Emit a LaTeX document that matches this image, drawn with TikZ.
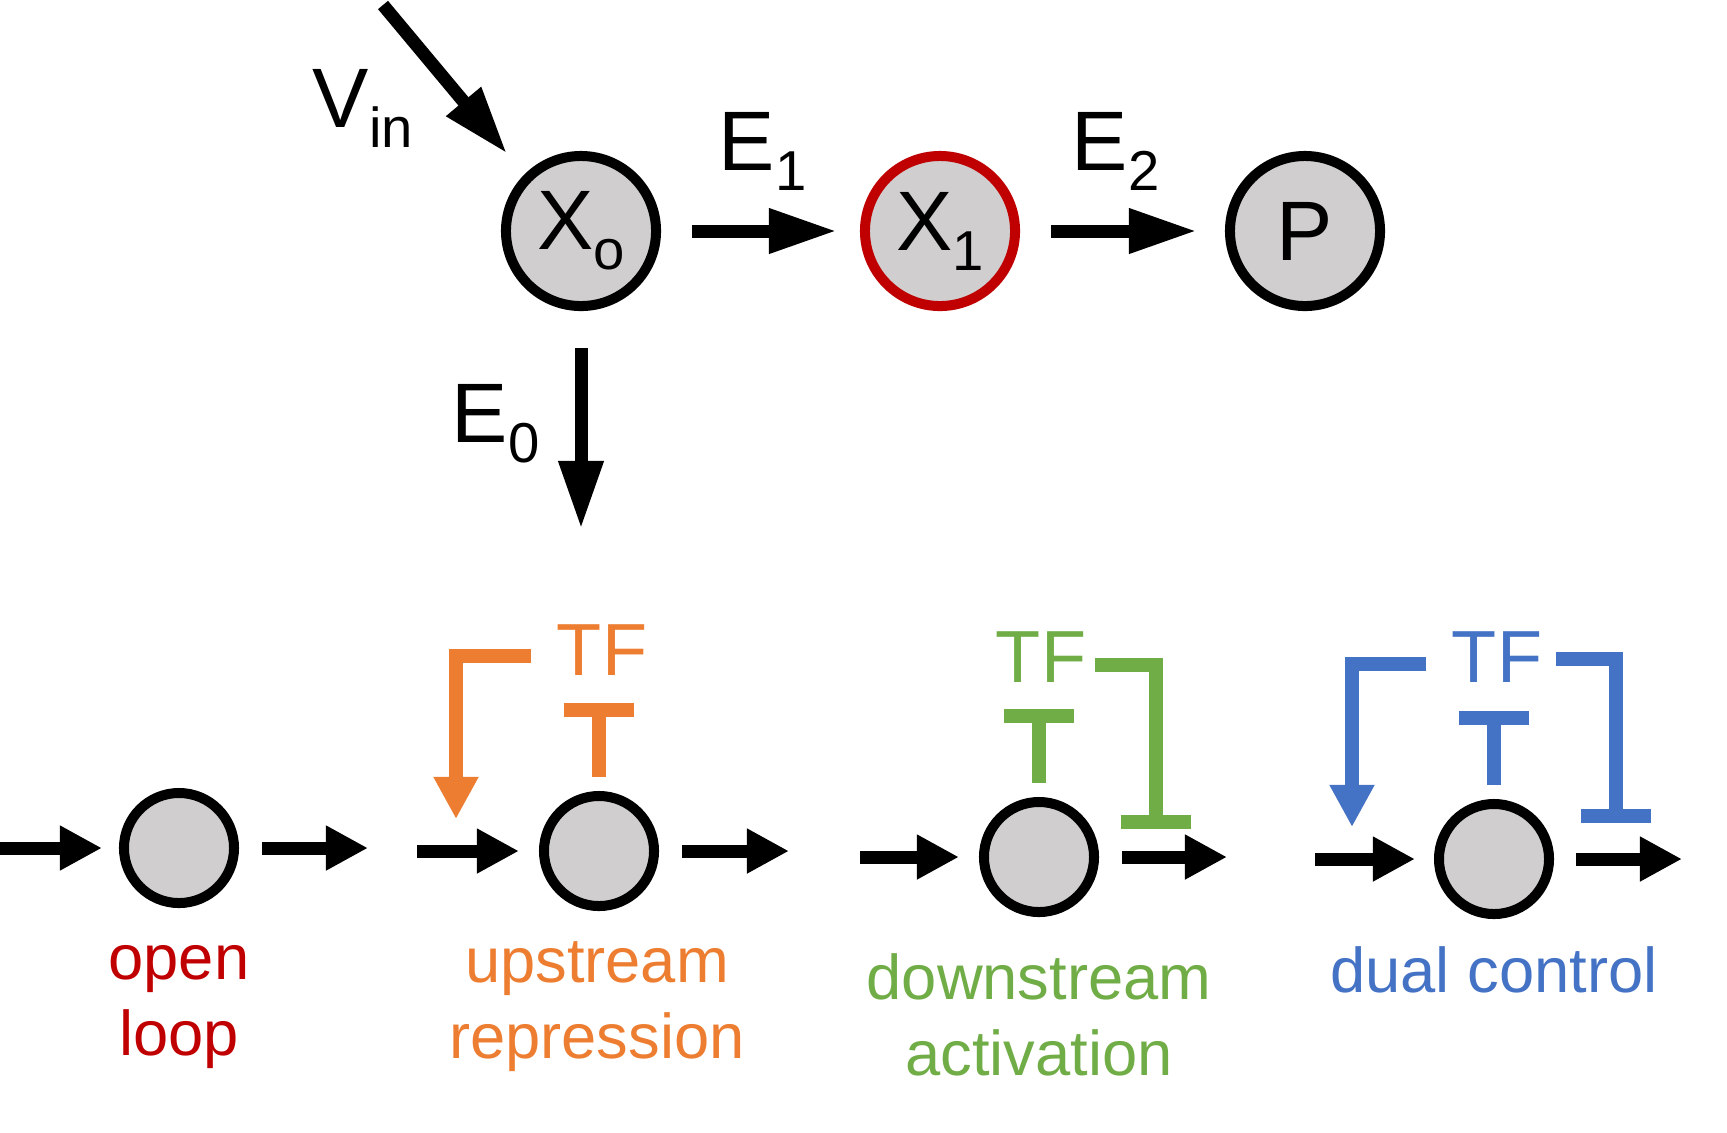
\documentclass[tikz,border=0pt]{standalone}
\usepackage{fontspec}
\setmainfont{Liberation Sans}
\usetikzlibrary{arrows.meta}

\definecolor{loopred}{HTML}{C00000}
\definecolor{uporange}{HTML}{ED7D31}
\definecolor{downgreen}{HTML}{70AD47}
\definecolor{dualblue}{HTML}{4472C4}
\definecolor{poolgray}{HTML}{D0CECE}

\newcommand{\lowidx}[1]{\raisebox{-0.2cm}{\fontsize{16}{16}\selectfont #1}}

\tikzset{
	pool/.style={circle,draw,fill=poolgray,line width=0.1cm,minimum size=1.5cm,inner sep=0pt,font=\fontsize{24}{28}\selectfont},
	smallpool/.style={pool,minimum size=1.1cm},
	bigflow/.style={line width=0.13cm,-{Triangle[length=0.68cm,width=0.42cm]}},
	flow/.style={line width=0.13cm,-{Triangle[length=0.42cm,width=0.42cm]}},
	activ/.style={line width=0.14cm,-{Triangle[length=0.42cm,width=0.42cm]}},
	repress/.style={line width=0.14cm,-{Bar[width=0.69cm]}},
	bigtext/.style={font=\fontsize{24}{28}\selectfont,inner sep=0pt,anchor=base west},
	tftext/.style={font=\fontsize{21}{25}\selectfont,inner sep=0pt,anchor=base},
	caption/.style={font=\fontsize{18}{21.6}\selectfont,inner sep=0pt,align=center,anchor=base},
}

\begin{document}
\begin{tikzpicture}[x=0.01cm,y=-0.01cm]
	\useasboundingbox (0,0) rectangle (1727,1132);

	% PATHWAY
	\node[pool] (X0) at (581,231) {X\lowidx{o}};
	\node[pool,draw=loopred] (X1) at (940,231) {X\lowidx{1}};
	\node[pool] (P) at (1305,231) {P};
	\coordinate (vinstart) at (383,5);
	\coordinate (e0end) at (581,529);
	\draw[bigflow,shorten >=0.27cm] (vinstart) -- (X0.135);
	\draw[bigflow,shorten <=0.31cm,shorten >=0.23cm] (X0) -- (X1);
	\draw[bigflow,shorten <=0.31cm,shorten >=0.28cm] (X1) -- (P);
	\draw[bigflow,shorten <=0.37cm] (X0) -- (e0end);
	\node[bigtext] (vin) at (312,127) {V\lowidx{in}};
	\node[bigtext] (e1) at (718,170) {E\lowidx{1}};
	\node[bigtext] (e2) at (1071,170) {E\lowidx{2}};
	\node[bigtext] (e0) at (451,442) {E\lowidx{0}};

	% OPEN LOOP
	\begin{scope}[shift={(179,848)}]
		\node[smallpool] (ol) at (0,0) {};
		\coordinate (olin) at (-180,0);
		\coordinate (olout) at (189,0);
		\draw[flow,shorten >=0.17cm] (olin) -- (ol);
		\draw[flow,shorten <=0.23cm] (ol) -- (olout);
		\node[caption,text=loopred] (olcap) at (0,207) {open\\loop};
	\end{scope}

	% UPSTREAM REPRESSION
	\begin{scope}[shift={(599,851)}]
		\node[smallpool] (ur) at (0,0) {};
		\coordinate (urin) at (-182,0);
		\coordinate (urout) at (190,0);
		\draw[flow,shorten >=0.20cm] (urin) -- (ur);
		\draw[flow,shorten <=0.23cm] (ur) -- (urout);
		\node[tftext,text=uporange] (urtf) at (3,-176) {TF};
		\coordinate (urbar) at (0,-148);
		\draw[repress,uporange,shorten <=0.14cm] (ur) -- (urbar);
		\coordinate (urfb) at (-68,-195);
		\coordinate (urfbend) at (-143,-32);
		\draw[activ,uporange] (urfb) -| (urfbend);
		\node[caption,text=uporange] (urcap) at (-2,207) {upstream\\repression};
	\end{scope}

	% DOWNSTREAM ACTIVATION
	\begin{scope}[shift={(1039,857)}]
		\node[smallpool] (da) at (0,0) {};
		\coordinate (dain) at (-179,0);
		\coordinate (daout) at (188,0);
		\draw[flow,shorten >=0.20cm] (dain) -- (da);
		\draw[flow,shorten <=0.23cm] (da) -- (daout);
		\node[tftext,text=downgreen] (datf) at (2,-175) {TF};
		\coordinate (dabar) at (0,-148);
		\draw[repress,downgreen,shorten <=0.14cm] (da) -- (dabar);
		\coordinate (dafb) at (56,-192);
		\coordinate (dafbend) at (117,-28);
		\draw[repress,downgreen] (dafb) -| (dafbend);
		\node[caption,text=downgreen] (dacap) at (0,218) {downstream\\activation};
	\end{scope}

	% DUAL CONTROL
	\begin{scope}[shift={(1494,859)}]
		\node[smallpool] (dc) at (0,0) {};
		\coordinate (dcin) at (-179,0);
		\coordinate (dcout) at (188,0);
		\draw[flow,shorten >=0.19cm] (dcin) -- (dc);
		\draw[flow,shorten <=0.22cm] (dc) -- (dcout);
		\node[tftext,text=dualblue] (dctf) at (3,-177) {TF};
		\coordinate (dcbar) at (0,-148);
		\draw[repress,dualblue,shorten <=0.14cm] (dc) -- (dcbar);
		\coordinate (dcfbl) at (-68,-195);
		\coordinate (dcfblend) at (-142,-32);
		\draw[activ,dualblue] (dcfbl) -| (dcfblend);
		\coordinate (dcfbr) at (62,-200);
		\coordinate (dcfbrend) at (122,-36);
		\draw[repress,dualblue] (dcfbr) -| (dcfbrend);
		\node[caption,text=dualblue] (dccap) at (0,133) {dual control};
	\end{scope}
\end{tikzpicture}
\end{document}
